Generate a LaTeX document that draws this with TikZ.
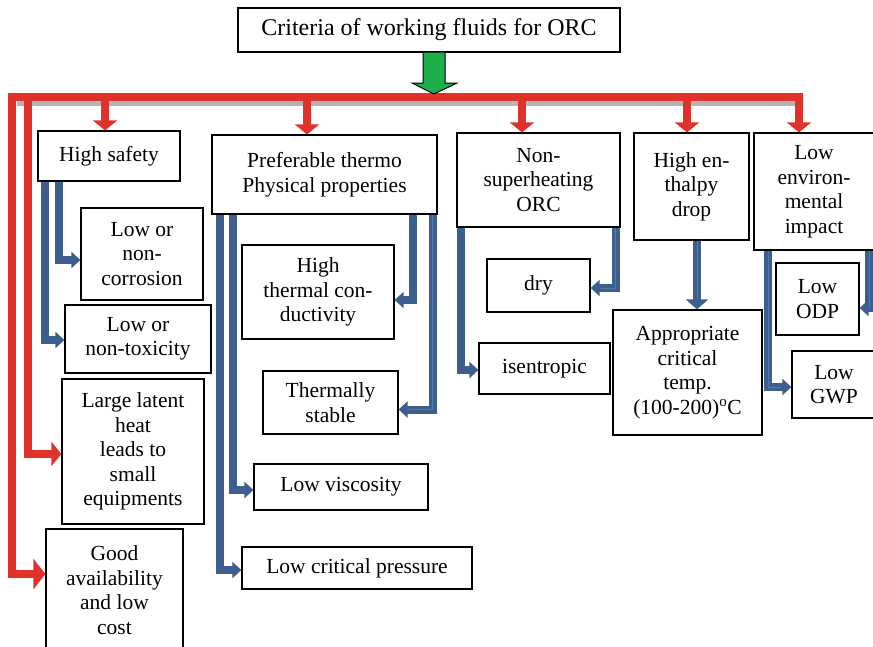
\documentclass[tikz,border=0pt]{standalone}
\usepackage{fontspec}
\setmainfont{Liberation Serif}
\usetikzlibrary{arrows.meta}
\definecolor{busred}{HTML}{E0322A}
\definecolor{pipeblue}{HTML}{3D5F8E}
\definecolor{pipelight}{HTML}{5479AD}
\definecolor{arrowgreen}{HTML}{1DB04B}
\definecolor{shadowgray}{HTML}{B4B4B4}
\begin{document}
\begin{tikzpicture}[x=1pt,y=-1pt,
  box/.style={draw=black, line width=1.2pt, fill=white, align=center, inner sep=2pt,
    font=\fontsize{21.5}{24.5}\selectfont},
  redpipe/.style={draw=busred, line width=8pt},
  redarrow/.style={redpipe, -{Triangle[width=24pt,length=10pt]}},
  bluearrow/.style={draw=pipeblue, line width=8pt, -{Triangle[width=16pt,length=9pt]}},
  bluestriped/.style={bluearrow,
    postaction={draw=pipelight, line width=1pt, -, shorten >=10pt}},
]
\useasboundingbox (0,0) rectangle (873,646);
\clip (0,0) rectangle (873,646);

% boxes
\node[box, minimum width=382pt, minimum height=44pt, font=\fontsize{24}{28}\selectfont] (title) at (429,30) {Criteria of working fluids for ORC};
\node[box, minimum width=142pt, minimum height=50pt] (safety) at (109,156) {High safety};
\node[box, minimum width=225pt, minimum height=79pt] (pref) at (324.5,174.5) {Preferable thermo\\Physical properties};
\node[box, minimum width=163pt, minimum height=94pt] (nonsup) at (538.5,180) {Non-\\superheating\\ORC};
\node[box, minimum width=115pt, minimum height=107pt] (enth) at (691.5,186.5) {High en-\\thalpy\\drop};
\node[box, minimum width=120pt, minimum height=117pt] (env) at (814,191.5) {Low\\environ-\\mental\\impact};
\node[box, minimum width=122pt, minimum height=92pt] (corr) at (142,254) {Low or\\non-\\corrosion};
\node[box, minimum width=146pt, minimum height=68pt] (tox) at (138,339) {Low or\\non-toxicity};
\node[box, minimum width=142pt, minimum height=145pt] (latent) at (133,451.5) {Large latent\\heat\\leads to\\small\\equipments};
\node[box, minimum width=137pt, minimum height=122pt] (avail) at (114.5,590) {Good\\availability\\and low\\cost};
\node[box, minimum width=152pt, minimum height=94pt] (cond) at (318,292) {High\\thermal con-\\ductivity};
\node[box, minimum width=135pt, minimum height=63pt] (stable) at (330.5,402.5) {Thermally\\stable};
\node[box, minimum width=174pt, minimum height=46pt] (visc) at (341,487) {Low viscosity};
\node[box, minimum width=230pt, minimum height=42pt] (press) at (357,568) {Low critical pressure};
\node[box, minimum width=103pt, minimum height=53pt] (dry) at (538.5,285.5) {dry};
\node[box, minimum width=131pt, minimum height=51pt] (isen) at (544.5,368.5) {isentropic};
\node[box, minimum width=149pt, minimum height=125pt] (crit) at (687.5,372.5) {Appropriate\\critical\\temp.\\(100-200)\textsuperscript{o}C};
\node[box, minimum width=83pt, minimum height=72pt] (odp) at (817.5,299) {Low\\ODP};
\node[box, minimum width=84pt, minimum height=67pt] (gwp) at (834,384.5) {Low\\GWP};

% red distribution bus
\coordinate (busL) at (12,96.5);
\coordinate (busL2) at (27.5,96.5);
\coordinate (busR) at (799,96.5);
\coordinate (b1) at (105,96.5);
\coordinate (b2) at (307,96.5);
\coordinate (b3) at (522,96.5);
\coordinate (b4) at (687,96.5);
\draw[draw=shadowgray, line width=5pt] (17,103) -- (795,103);
\draw[redpipe, {Triangle[width=24pt,length=10pt]}-{Triangle[width=30pt,length=12pt]}]
  (busR |- env.north) -- (busR) -- (busL) |- ([yshift=16pt]avail.west);
\draw[redarrow] (busL2) |- ([yshift=-2.5pt]latent.west);
\draw[redarrow] (b1) -- (b1 |- safety.north);
\draw[redarrow] (b2) -- (b2 |- pref.north);
\draw[redarrow] (b3) -- (b3 |- nonsup.north);
\draw[redarrow] (b4) -- (b4 |- enth.north);

% green arrow from the title
\draw[line width=1pt, fill=arrowgreen, line join=miter]
  (423,52) -- (423,83) -- (412,83) -- (434,94) -- (457,83) -- (445,83) -- (445,52) -- cycle;

% blue branches
\draw[bluearrow] ([xshift=8pt]safety.south west) |- ([yshift=-1pt]tox.west);
\draw[bluearrow] ([xshift=22pt]safety.south west) |- ([yshift=-6pt]corr.west);
\draw[bluearrow] ([xshift=9pt]pref.south west) |- ([yshift=-2pt]press.west);
\draw[bluearrow] ([xshift=22pt]pref.south west) |- ([yshift=-3pt]visc.west);
\draw[bluearrow] ([xshift=-25pt]pref.south east) |- ([yshift=-8pt]cond.east);
\draw[bluestriped] ([xshift=-5pt]pref.south east) |- ([yshift=-7pt]stable.east);
\draw[bluearrow] ([xshift=5pt]nonsup.south west) |- ([yshift=-1.5pt]isen.west);
\draw[bluestriped] ([xshift=-5pt]nonsup.south east) |- ([yshift=-2.5pt]dry.east);
\draw[bluestriped, -{Triangle[width=22pt,length=10pt]}] ([xshift=5.5pt]enth.south) -- ([xshift=5.5pt]enth.south |- crit.north);
\draw[bluestriped] ([xshift=15pt]env.south west) |- ([yshift=-2.5pt]gwp.west);
\draw[bluestriped] ([xshift=116pt]env.south west) |- ([yshift=-9pt]odp.east);
\end{tikzpicture}
\end{document}
